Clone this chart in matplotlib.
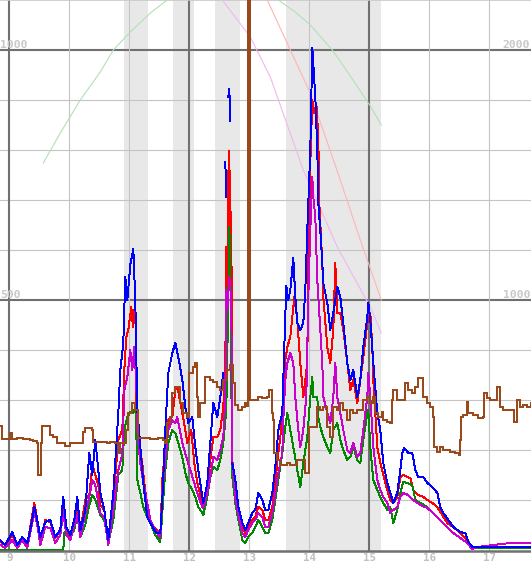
import numpy as np
import matplotlib
matplotlib.use("Agg")
import matplotlib.pyplot as plt
import matplotlib.transforms as mtransforms
from matplotlib.lines import Line2D

nan = np.nan

# x axis: minutes since midnight (8:51 .. 17:42), hour ticks 9..17
hours = list(range(9, 18))
x_range = (530.7, 1061.7)
bands = [(655, 679), (704, 725), (746, 771), (817, 912)]   # shaded periods

# left axis (0..1100): green / red / magenta
green_t = [531, 594, 595, 597, 601, 605, 608, 611, 616, 620, 623, 626, 631, 635, 639, 644, 649, 653, 655, 658,
           661, 664, 666, 667, 668, 671, 674, 678, 681, 686, 691, 693, 696, 699, 703, 706, 709, 713, 716, 719,
           723, 726, 729, 733, 734, 738, 741, 744, 748, 751, 754, 757, 759, 760, 761, 762, 763, 766, 769, 773,
           776, 779, 783, 786, 789, 793, 796, 799, 803, 806, 809, 813, 816, 818, 821, 824, 828, 831, 834, 838,
           841, 843, 844, 848, 849, 851, 854, 858, 861, 864, 868, 871, 874, 878, 881, 884, 888, 891, 894, 898,
           899, 901, 904, 908, 911, 914, 918, 921, 924, 928, 931, 934, 938, 943, 946, 951, 958, 964, 971, 978,
           984, 991, 998, 1003, 1062]
green_v = [0, 0, 34, 40, 30, 40, 70, 26, 50, 90, 110, 100, 70, 60, 14, 60, 150, 160, 240, 266,
           276, 274, 286, 240, 140, 114, 86, 66, 54, 30, 16, 74, 160, 214, 240, 234, 214, 186, 154, 134,
           120, 106, 86, 74, 70, 106, 146, 166, 160, 180, 214, 280, 500, 646, 580, 340, 146, 94, 60, 20,
           14, 26, 34, 46, 60, 46, 34, 34, 60, 100, 140, 194, 246, 274, 240, 206, 160, 126, 174, 226,
           306, 346, 306, 306, 266, 246, 226, 206, 194, 240, 254, 220, 200, 180, 186, 206, 180, 174, 220, 274,
           280, 206, 140, 120, 106, 94, 80, 86, 54, 80, 114, 136, 134, 130, 100, 94, 86, 74, 60, 46,
           34, 24, 14, 4, 4]

red_t = [531, 536, 543, 548, 553, 558, 565, 568, 571, 576, 581, 586, 591, 594, 597, 601, 605, 608, 611, 616,
         620, 623, 626, 629, 631, 635, 639, 644, 649, 653, 655, 657, 659, 662, 663, 664, 666, 667, 668, 670,
         673, 675, 678, 681, 684, 688, 691, 693, 696, 699, 703, 706, 708, 710, 713, 716, 718, 722, 725, 728,
         733, 734, 738, 741, 744, 748, 751, 754, 756, 757, 758, 759, 760, 761, 762, 763, 766, 769, 773, 776,
         779, 783, 786, 789, 793, 796, 799, 803, 806, 809, 811, 814, 816, 818, 821, 823, 825, 828, 831, 834,
         838, 839, 841, 843, 845, 847, 849, 850, 853, 854, 858, 861, 864, 866, 868, 871, 874, 878, 881, 884,
         888, 891, 894, 898, 901, 903, 904, 908, 911, 914, 918, 921, 924, 928, 931, 934, 938, 941, 944, 949,
         954, 958, 963, 968, 973, 978, 984, 991, 998, 1003, 1062]
red_v = [16, 10, 30, 10, 24, 10, 94, 60, 20, 60, 56, 24, 40, 90, 40, 24, 60, 90, 36, 100,
         110, 170, 150, 130, 90, 80, 20, 100, 220, 240, 360, 426, 440, 486, 460, 446, 506, 294, 254, 206,
         174, 134, 86, 60, 46, 40, 26, 140, 206, 260, 266, 320, 326, 306, 274, 240, 214, 240, 174, 134,
         94, 86, 120, 180, 226, 226, 240, 286, 374, 606, 500, 750, 798, 620, 676, 180, 120, 80, 46, 34,
         46, 60, 66, 86, 80, 60, 60, 86, 134, 194, 226, 286, 380, 406, 426, 466, 506, 460, 374, 306,
         374, 574, 774, 900, 874, 894, 826, 694, 574, 506, 406, 374, 440, 574, 474, 474, 440, 374, 320, 340,
         294, 340, 386, 454, 474, 406, 340, 206, 174, 150, 120, 100, 94, 106, 146, 150, 146, 144, 120, 110,
         106, 100, 94, 86, 70, 54, 46, 34, 20, 4, 4]

magenta_t = [531, 536, 543, 548, 553, 558, 565, 568, 571, 576, 581, 586, 591, 594, 597, 601, 605, 608, 611, 616,
             620, 623, 626, 631, 635, 639, 644, 649, 653, 655, 658, 661, 663, 665, 667, 668, 671, 674, 678, 681,
             686, 691, 693, 696, 699, 703, 706, 708, 711, 714, 718, 721, 724, 728, 733, 734, 738, 741, 744, 748,
             751, 754, 756, 757, 758, 760, 762, 763, 766, 769, 773, 776, 779, 783, 786, 789, 793, 796, 799, 803,
             806, 809, 813, 814, 816, 818, 821, 824, 826, 829, 831, 834, 837, 839, 841, 843, 844, 846, 848, 851,
             853, 854, 858, 861, 864, 866, 868, 871, 874, 878, 881, 884, 888, 891, 894, 898, 899, 901, 904, 908,
             911, 914, 918, 921, 924, 928, 931, 934, 939, 944, 951, 958, 964, 971, 978, 984, 991, 998, 1003, 1008,
             1024, 1041, 1062]
magenta_v = [10, 4, 20, 4, 20, 4, 76, 50, 10, 46, 44, 14, 30, 76, 30, 20, 50, 70, 26, 70,
             106, 140, 130, 74, 66, 10, 80, 160, 190, 320, 346, 400, 360, 406, 334, 240, 174, 134, 94, 60,
             40, 24, 114, 180, 240, 260, 254, 266, 234, 206, 180, 160, 140, 114, 86, 84, 114, 146, 186, 180,
             200, 226, 306, 520, 480, 546, 500, 174, 106, 70, 34, 26, 40, 54, 60, 74, 66, 46, 46, 74,
             114, 154, 194, 260, 340, 374, 394, 374, 306, 240, 206, 240, 306, 506, 640, 746, 706, 666, 540, 440,
             374, 306, 274, 254, 306, 374, 306, 274, 240, 200, 194, 214, 186, 194, 240, 306, 354, 306, 206, 140,
             120, 106, 94, 74, 80, 86, 106, 114, 110, 100, 90, 84, 74, 60, 46, 34, 24, 14, 2, 6,
             10, 14, 14]

# right axis (0..2200): blue / brown
blue_t = [531, 536, 543, 548, 553, 558, 561, 565, 568, 571, 576, 581, 586, 591, 594, 597, 601, 605, 608, 611,
          616, 620, 623, 626, 629, 631, 635, 639, 644, 649, 651, 654, 656, 658, 661, 664, 666, 668, 671, 674,
          678, 681, 687, 691, 693, 696, 699, 703, 706, 709, 713, 716, 719, 723, 726, 729, 733, 734, 738, 741,
          744, 748, 751, 754, 755, 756, 757, 758, 759, 760, 761, 762, 763, 766, 769, 773, 776, 779, 783, 786,
          789, 793, 796, 799, 803, 806, 809, 813, 815, 817, 819, 821, 824, 826, 828, 831, 834, 836, 838, 841,
          843, 845, 846, 848, 849, 851, 853, 854, 858, 861, 864, 868, 871, 874, 878, 881, 884, 888, 891, 894,
          898, 899, 901, 904, 908, 911, 914, 918, 921, 924, 928, 931, 933, 935, 939, 943, 946, 949, 954, 958,
          963, 968, 971, 974, 979, 984, 991, 996, 999, 1003, 1062]
blue_v = [40, 20, 72, 20, 52, 28, 80, 172, 120, 52, 112, 120, 52, 80, 212, 92, 60, 120, 212, 80,
          160, 388, 300, 440, 320, 228, 160, 40, 228, 548, 720, 828, 1092, 1000, 1140, 1204, 1000, 560, 412, 268,
          132, 108, 68, 68, 200, 480, 708, 788, 828, 772, 680, 572, 508, 532, 412, 320, 212, 188, 268, 428,
          588, 532, 612, 708, nan, 1552, 1412, nan, 1812, 1844, 1716, nan, 348, 280, 172, 108, 80, 108, 148, 160,
          228, 200, 160, 160, 228, 332, 480, 548, 812, 1056, 1000, 1040, 1168, 1012, 908, 880, 908, 1040, 1280, 1600,
          2008, 1880, 1812, 1600, 1388, 1280, 1148, 1068, 988, 880, 948, 1052, 1012, 908, 748, 680, 720, 612, 680, 812,
          932, 988, 920, 748, 548, 480, 348, 268, 228, 188, 228, 320, 388, 408, 388, 388, 320, 292, 292, 268,
          252, 228, 172, 148, 120, 92, 72, 68, 32, 12, 12]

brown_t = [531, 533, 541, 543, 548, 554, 561, 564, 568, 569, 572, 573, 579, 581, 584, 588, 596, 601, 611,
           614, 616, 623, 624, 631, 638, 641, 646, 649, 651, 657, 659, 663, 666, 669, 674, 681, 689, 694, 696,
           698, 701, 703, 706, 711, 714, 718, 720, 724, 726, 728, 729, 731, 736, 741, 744, 748, 751, 754, 758,
           761, 764, 766, 769, 773, 776, 778, 779, 781, 786, 789, 793, 798, 800, 803, 804, 805, 808, 811,
           818, 821, 828, 834, 836, 840, 844, 848, 851, 854, 858, 861, 864, 868, 871, 874, 878, 881, 884, 888,
           891, 894, 898, 901, 904, 906, 909, 913, 914, 918, 921, 923, 924, 928, 933, 936, 939, 943, 946, 949,
           953, 954, 958, 961, 964, 965, 968, 971, 974, 978, 981, 986, 990, 991, 992, 994, 998, 999, 1004, 1009,
           1014, 1015, 1018, 1021, 1024, 1028, 1031, 1034, 1041, 1045, 1048, 1051, 1054, 1058, 1062]
brown_v = [496, 444, 468, 444, 448, 444, 440, 436, 428, 300, 428, 496, 496, 460, 452, 428, 416, 428, 428,
           472, 488, 480, 432, 432, 428, 432, 428, 388, 428, 480, 548, 588, 560, 448, 448, 444, 448, 440, 428,
           508, 532, 628, 652, 588, 548, 532, 708, 732, 748, 612, 532, 588, 692, 680, 672, 652, 640, 680, 720,
           740, 668, 580, 560, 572, 588, 576, 2400, 600, 600, 612, 608, 612, 640, 548, 520, 388, 360, 340,
           348, 340, 360, 360, 308, 492, 492, 572, 560, 572, 492, 452, 572, 560, 588, 560, 520, 560, 548, 560,
           560, 600, 612, 588, 612, 548, 532, 552, 520, 512, 508, 600, 640, 600, 600, 668, 640, 628, 652, 688,
           688, 612, 588, 572, 532, 412, 392, 412, 400, 400, 392, 388, 380, 440, 532, 540, 592, 548, 540, 528,
           532, 628, 608, 600, 600, 652, 572, 560, 560, 512, 600, 572, 580, 572, 588]

# faint reference curves (left axis units)
arc_t = [574, 591, 611, 631, 644, 661, 681, 698, 726, 753, 781, 809, 826, 841, 863, 881, 901, 912]
arc_v = [774, 834, 900, 956, 1000, 1036, 1074, 1100, 1126, 1134, 1126, 1100, 1076, 1050, 1000, 948, 888, 850]
fred_t = [793, 798, 821, 841, 871, 891, 912]
fred_v = [1120, 1100, 1000, 914, 740, 620, 500]
fpink_t = [748, 753, 781, 801, 834, 868, 901, 912]
fpink_v = [1112, 1100, 1026, 946, 760, 606, 486, 434]

W, H = 531, 562
fig = plt.figure(figsize=(W / 100, H / 100), dpi=100)
ax = fig.add_axes([0, 11 / H, 1, 551 / H])
ax2 = ax.twinx()
ax.set_xlim(*x_range)
ax.set_ylim(-2, 1100)
ax2.set_ylim(-4, 2200)
ax.set_zorder(2)
ax2.set_zorder(3)
ax2.patch.set_visible(False)

for a in (ax, ax2):
    for s in a.spines.values():
        s.set_visible(False)
    a.set_yticks([])

# bands and grid
for b0, b1 in bands:
    ax.axvspan(b0, b1, color="#e8e8e8", lw=0, zorder=0)
for v in range(100, 1100, 100):
    dark = v in (500, 1000)
    ax.axhline(v, color="#707070" if dark else "#c4c4c4", lw=1.5 if dark else 0.8, zorder=1)
for h in hours:
    dark = h in (9, 12, 15)
    ax.axvline(h * 60, color="#707070" if dark else "#c4c4c4", lw=1.5 if dark else 0.8, zorder=1)
ax.axhline(1100, color="#c8c8c8", lw=1.2, zorder=1)
ax.axhline(-1, color="#707070", lw=1.8, zorder=10, clip_on=False)

# faint curves
ax.plot(arc_t, arc_v, color="#b4e0b4", lw=0.8, zorder=1.5)
ax.plot(fred_t, fred_v, color="#ffb4b4", lw=0.8, zorder=1.5)
ax.plot(fpink_t, fpink_v, color="#f0b8f0", lw=0.8, zorder=1.5)

# series (crisp, unsmoothed like the source chart)
kw = dict(lw=0.7, antialiased=False)
ax2.plot(blue_t, blue_v, color="#0000ff", zorder=2, **kw)
ax.plot(red_t, red_v, color="#ff0000", zorder=3, **kw)
ax.plot(green_t, green_v, color="#008800", zorder=4, **kw)
ax.plot(magenta_t, magenta_v, color="#cc00cc", zorder=5, **kw)
ax2.plot(brown_t, brown_v, color="#9a4a1a", lw=1.4, antialiased=False, drawstyle="steps-post", zorder=6)

# x tick labels
ax.set_xticks([h * 60 for h in hours])
ax.set_xticklabels([str(h) for h in hours])
ax.tick_params(axis="x", length=0, pad=1.5, labelsize=7.8, labelcolor="#c0c0c0")
for t in ax.get_xticklabels():
    t.set_fontfamily("DejaVu Sans Mono")
    t.set_fontweight("bold")

# y labels inside the plot
lab = dict(fontsize=8.2, color="#c8c8c8", family="DejaVu Sans Mono", fontweight="bold", zorder=1.2)
trl = mtransforms.blended_transform_factory(ax.transAxes, ax.transData)
for v in (500, 1000):
    ax.annotate(str(v), (0, v), xycoords=trl, xytext=(0, 1.5), textcoords="offset pixels",
                ha="left", va="baseline", **lab)
    ax.annotate(str(2 * v), (1, v), xycoords=trl, xytext=(-1, 1.5), textcoords="offset pixels",
                ha="right", va="baseline", **lab)

# legend swatches
def swatch(x0, x1, y, c):
    fig.add_artist(Line2D([x0 / W, x1 / W], [1 - y / H] * 2, color=c, lw=1.5,
                          transform=fig.transFigure, solid_capstyle="butt"))

swatch(1, 11, 3, "#008800")
swatch(1, 11, 6, "#ff0000")
swatch(1, 11, 9, "#cc00cc")
swatch(520, 529, 3, "#0000ff")
swatch(520, 529, 6, "#9a4a1a")

fig.savefig("out.png", dpi=100, facecolor="white")
